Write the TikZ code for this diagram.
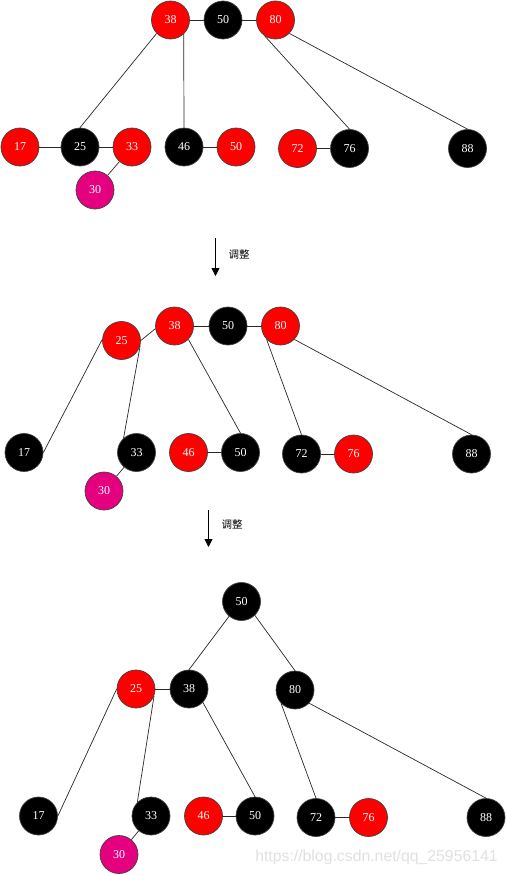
\documentclass[tikz,border=0pt]{standalone}
\usepackage{fontspec}
\setmainfont{Liberation Serif}
\newfontfamily\cjk{Noto Sans CJK SC}
\newfontfamily\wmfont{Liberation Sans}
\usetikzlibrary{arrows.meta}
\definecolor{rbred}{RGB}{255,0,0}
\definecolor{rbmag}{RGB}{228,0,127}
\definecolor{wmgray}{RGB}{224,224,224}
\definecolor{edgecol}{RGB}{40,40,40}
\tikzset{
  rbnode/.style={circle,minimum size=38pt,inner sep=0pt,draw=black!75,line width=0.7pt,text=white,font=\fontsize{12}{12}\selectfont},
  rednode/.style={rbnode,fill=rbred},
  blknode/.style={rbnode,fill=black},
  newnode/.style={rbnode,fill=rbmag},
  edge/.style={draw=edgecol,line width=0.7pt},
  steparrow/.style={draw=black,line width=0.8pt,-{Triangle[width=8pt,length=8pt]}},
  steplabel/.style={font=\cjk\fontsize{10.5}{10.5}\selectfont,inner sep=0pt},
}
\begin{document}
\begin{tikzpicture}[x=1pt,y=-1pt]
\useasboundingbox (0,0) rectangle (506,875);
% ---------- Stage 1 ----------
\node[rednode] (a38) at (170.5,20) {38};
\node[blknode] (a50) at (223,20) {50};
\node[rednode] (a80) at (275.5,20) {80};
\node[rednode] (a17) at (20,147) {17};
\node[blknode] (a25) at (80,147) {25};
\node[rednode] (a33) at (132,147) {33};
\node[newnode] (a30) at (95,190) {30};
\node[blknode] (a46) at (184,147) {46};
\node[rednode] (a50b) at (236,147) {50};
\node[rednode] (a72) at (297.5,148.5) {72};
\node[blknode] (a76) at (349.5,148.5) {76};
\node[blknode] (a88) at (467.5,148.5) {88};
\begin{scope}[on background layer/.try]
\end{scope}
\draw[edge] (a38) -- (a50);
\draw[edge] (a50) -- (a80);
\draw[edge] (a38.-136) -- (a25.north);
\draw[edge] (a38.-47) -- (a46.north);
\draw[edge] (a80.-123) -- (a76.north);
\draw[edge] (a80.-44) -- (a88.north);
\draw[edge] (a17) -- (a25);
\draw[edge] (a25) -- (a33);
\draw[edge] (a33) -- (a30);
\draw[edge] (a46) -- (a50b);
\draw[edge] (a72) -- (a76);
% arrow 1
\coordinate (s1a) at (215.5,238);
\coordinate (s1b) at (215.5,276);
\draw[steparrow] (s1a) -- (s1b);
\node[steplabel] (l1) at (239,255) {调整};
% ---------- Stage 2 ----------
\node[rednode] (b25) at (121.5,340.5) {25};
\node[rednode] (b38) at (174.5,326) {38};
\node[blknode] (b50) at (228,326) {50};
\node[rednode] (b80) at (280.5,326) {80};
\node[blknode] (b17) at (24,452.5) {17};
\node[blknode] (b33) at (136.5,452.5) {33};
\node[newnode] (b30) at (104,491) {30};
\node[rednode] (b46) at (188.5,452.5) {46};
\node[blknode] (b50b) at (240.5,452.5) {50};
\node[blknode] (b72) at (301.5,454) {72};
\node[rednode] (b76) at (353.5,454) {76};
\node[blknode] (b88) at (471.5,454) {88};
\draw[edge] (b38) -- (b50);
\draw[edge] (b50) -- (b80);
\draw[edge] (b25.east) -- (b38.-172);
\draw[edge] (b25.177) -- (b17.east);
\draw[edge] (b25.-15) -- (b33.132);
\draw[edge] (b33) -- (b30);
\draw[edge] (b38.-44) -- (b50b.north);
\draw[edge] (b46) -- (b50b);
\draw[edge] (b80.-136) -- (b72.north);
\draw[edge] (b80.-44) -- (b88.north);
\draw[edge] (b72) -- (b76);
% arrow 2
\coordinate (s2a) at (208.5,510);
\coordinate (s2b) at (208.5,547);
\draw[steparrow] (s2a) -- (s2b);
\node[steplabel] (l2) at (232,524) {调整};
% ---------- Stage 3 ----------
\node[blknode] (c50) at (241.5,601.5) {50};
\node[rednode] (c25) at (136,689) {25};
\node[blknode] (c38) at (189,689) {38};
\node[blknode] (c80) at (295,690) {80};
\node[blknode] (c17) at (38.5,816) {17};
\node[blknode] (c33) at (151,816) {33};
\node[newnode] (c30) at (119,854.5) {30};
\node[rednode] (c46) at (203.5,816) {46};
\node[blknode] (c50b) at (255,816) {50};
\node[blknode] (c72) at (316,817.5) {72};
\node[rednode] (c76) at (368.5,817.5) {76};
\node[blknode] (c88) at (486,817.5) {88};
\draw[edge] (c50.-130) -- (c38.north);
\draw[edge] (c50.-46) -- (c80.north);
\draw[edge] (c25) -- (c38);
\draw[edge] (c25.west) -- (c17.east);
\draw[edge] (c25.-21) -- (c33.135);
\draw[edge] (c33) -- (c30);
\draw[edge] (c38.-44) -- (c50b.north);
\draw[edge] (c46) -- (c50b);
\draw[edge] (c80.-136) -- (c72.north);
\draw[edge] (c80.-43) -- (c88.north);
\draw[edge] (c72) -- (c76);
% watermark
\node[font=\wmfont\fontsize{15.8}{15.8}\selectfont,text=wmgray,inner sep=0pt] (wm) at (376.5,857) {https://blog.csdn.net/qq\_25956141};
\end{tikzpicture}
\end{document}
